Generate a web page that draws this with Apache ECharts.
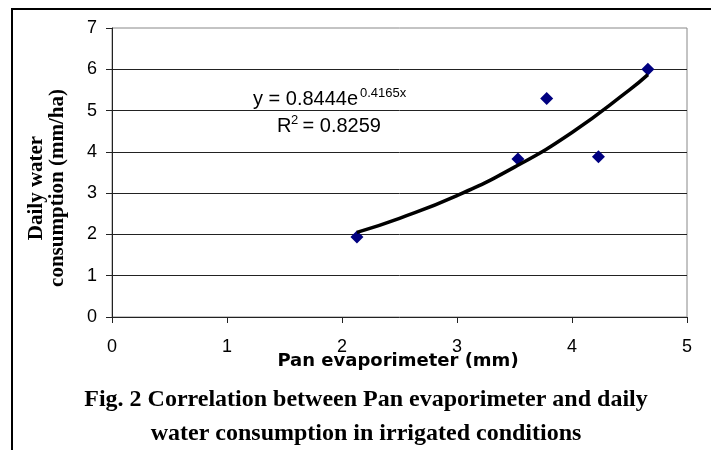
<!DOCTYPE html>
<html>
<head>
<meta charset="utf-8">
<script src="https://cdn.jsdelivr.net/npm/echarts@6/dist/echarts.min.js"></script>
<style>
html,body{margin:0;padding:0;background:#fff;}
#chart{width:711px;height:450px;}
</style>
</head>
<body>
<div id="chart"></div>
<script>
// Observed data points (Pan evaporimeter mm vs daily water consumption mm/ha)
const panEvap = [2.13, 3.53, 3.78, 4.23, 4.66];
const waterUse = [1.94, 3.83, 5.29, 3.88, 6.0];
// Trendline
const trendX = [2.13, 2.5, 3.0, 3.5, 4.0, 4.5, 4.66];
const trendY = [2.05, 2.39, 2.94, 3.63, 4.47, 5.50, 5.87];
// Tick labels
const xTickLabels = ['0', '1', '2', '3', '4', '5'];
const yTickLabels = ['0', '1', '2', '3', '4', '5', '6', '7'];
// Texts
const xTitle = 'Pan evaporimeter (mm)';
const yTitle = ['Daily water', 'consumption (mm/ha)'];
const eqMain = 'y = 0.8444e';
const eqSup = '0.4165x';
const r2Main = 'R';
const r2Sup = '2';
const r2Rest = ' = 0.8259';
const caption = ['Fig. 2 Correlation between Pan evaporimeter and daily', 'water consumption in irrigated conditions'];

const chart = echarts.init(document.getElementById('chart'), null, {renderer: 'canvas'});
const sans = '"Liberation Sans", Arial, sans-serif';
const serif = '"Liberation Serif", "Times New Roman", serif';

chart.setOption({
  animation: false,
  backgroundColor: '#fff',
  grid: {
    left: 112, right: 24, top: 28, bottom: 133,
    containLabel: false, outerBoundsMode: 'none',
    show: true, borderColor: '#888', borderWidth: 1, backgroundColor: 'transparent'
  },
  xAxis: {
    type: 'value', min: 0, max: 5, interval: 1,
    axisLine: {show: true, onZero: false, lineStyle: {color: '#222', width: 1}},
    axisTick: {show: true, inside: false, length: 6, lineStyle: {color: '#222'}},
    axisLabel: {color: '#000', fontSize: 18, fontFamily: sans, margin: 21,
      formatter: (v) => xTickLabels[Math.round(v)]},
    splitLine: {show: false}
  },
  yAxis: {
    type: 'value', min: 0, max: 7, interval: 1,
    axisLine: {show: true, onZero: false, lineStyle: {color: '#222', width: 1}},
    axisTick: {show: true, inside: false, length: 6, lineStyle: {color: '#222'}},
    axisLabel: {color: '#000', fontSize: 18, fontFamily: sans, margin: 15,
      formatter: (v) => yTickLabels[Math.round(v)]},
    splitLine: {show: true, showMinLine: false, showMaxLine: false, lineStyle: {color: '#222', width: 1}}
  },
  series: [
    {
      type: 'scatter',
      data: panEvap.map((x, i) => [x, waterUse[i]]),
      symbol: 'diamond', symbolSize: [13, 13],
      itemStyle: {color: '#000080', opacity: 1},
      z: 2
    },
    {
      type: 'line',
      data: trendX.map((x, i) => [x, trendY[i]]),
      smooth: true, showSymbol: false,
      lineStyle: {color: '#000', width: 3.5},
      z: 3
    }
  ],
  graphic: [
    {type: 'line', shape: {x1: 11, y1: 9, x2: 711, y2: 9}, style: {stroke: '#000', lineWidth: 2}},
    {type: 'line', shape: {x1: 12, y1: 8, x2: 12, y2: 450}, style: {stroke: '#000', lineWidth: 2}},
    {type: 'text', x: 37, y: 188, rotation: Math.PI / 2,
      style: {text: yTitle[0], font: 'bold 21px ' + serif, fill: '#000',
        align: 'center', verticalAlign: 'middle'}},
    {type: 'text', x: 58, y: 188, rotation: Math.PI / 2,
      style: {text: yTitle[1], font: 'bold 21px ' + serif, fill: '#000',
        align: 'center', verticalAlign: 'middle'}},
    {type: 'text', x: 398, y: 361,
      style: {text: xTitle, font: 'bold 18px "DejaVu Sans", sans-serif', fill: '#000',
        align: 'center', verticalAlign: 'middle'}},
    {type: 'text', x: 253, y: 99,
      style: {text: eqMain, font: '20px ' + sans, fill: '#000', align: 'left', verticalAlign: 'middle'}},
    {type: 'text', x: 360, y: 93,
      style: {text: eqSup, font: '13px ' + sans, fill: '#000', align: 'left', verticalAlign: 'middle'}},
    {type: 'text', x: 277, y: 126,
      style: {text: r2Main, font: '20px ' + sans, fill: '#000', align: 'left', verticalAlign: 'middle'}},
    {type: 'text', x: 291, y: 120,
      style: {text: r2Sup, font: '13px ' + sans, fill: '#000', align: 'left', verticalAlign: 'middle'}},
    {type: 'text', x: 297, y: 126,
      style: {text: r2Rest, font: '20px ' + sans, fill: '#000', align: 'left', verticalAlign: 'middle'}},
    {type: 'text', x: 366, y: 400,
      style: {text: caption[0], font: 'bold 24px ' + serif, fill: '#000', align: 'center', verticalAlign: 'middle'}},
    {type: 'text', x: 366, y: 434,
      style: {text: caption[1], font: 'bold 24px ' + serif, fill: '#000', align: 'center', verticalAlign: 'middle'}}
  ]
});
</script>
</body>
</html>
